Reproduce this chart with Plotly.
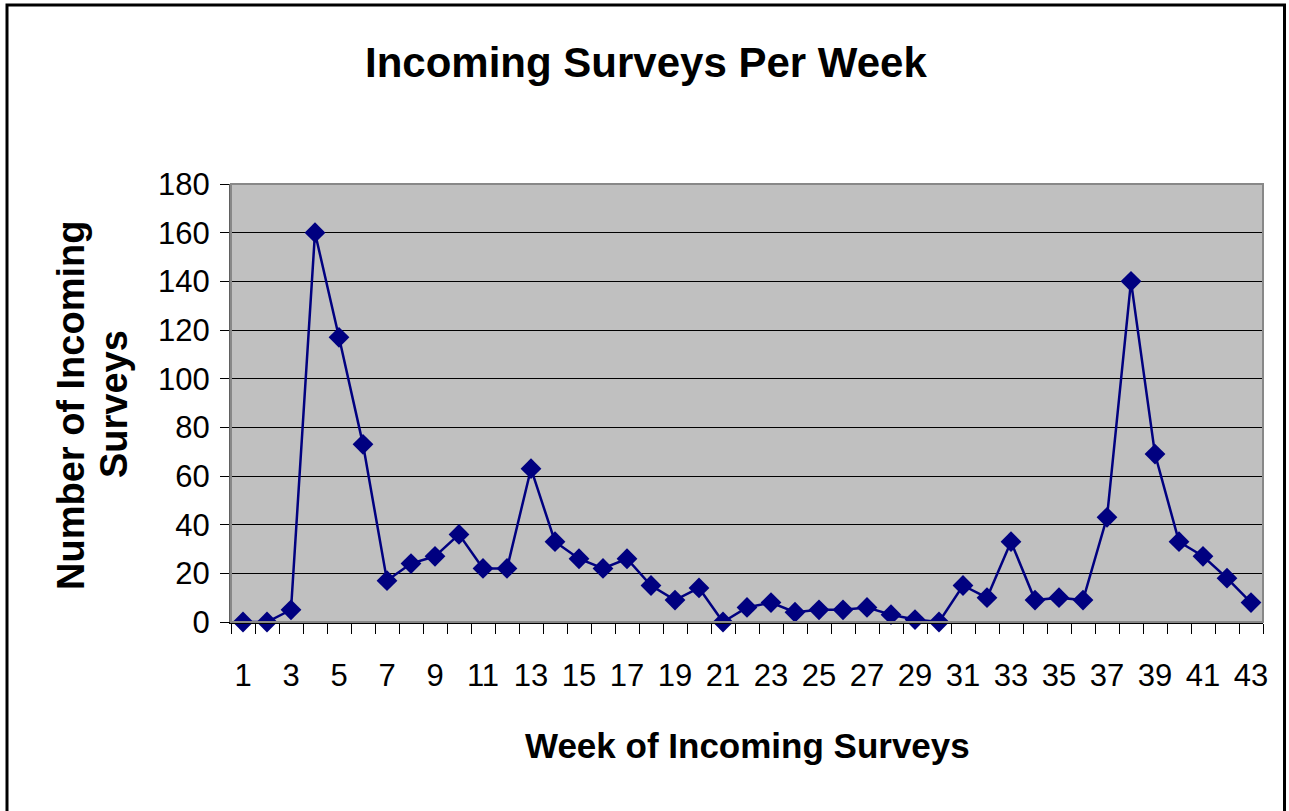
import plotly.graph_objects as go

weeks = list(range(1, 44))
surveys = [0, 0, 5, 160, 117, 73, 17, 24, 27, 36,
           22, 22, 63, 33, 26, 22, 26, 15, 9, 14,
           0, 6, 8, 4, 5, 5, 6, 3, 1, 0,
           15, 10, 33, 9, 10, 9, 43, 140, 69, 33,
           27, 18, 8]
x_tick_vals = list(range(1, 44, 2))
x_tick_text = [str(v) for v in x_tick_vals]
y_tick_vals = list(range(0, 181, 20))

title_text = "Incoming Surveys Per Week"
x_title = "Week of Incoming Surveys"
y_title_lines = ["Number of Incoming", "Surveys"]

W, H = 1289, 811
L, R, T, B = 231, 1289 - 1263, 184, 811 - 622
PW, PH = W - L - R, H - T - B

def px_x(p):
    return (p - L) / PW

def px_y(p):
    return (H - B - p) / PH

FONT = "Arial, Liberation Sans, sans-serif"

fig = go.Figure()
fig.add_trace(go.Scatter(
    x=weeks, y=surveys, mode="lines+markers",
    line=dict(color="#000080", width=2.5),
    marker=dict(symbol="diamond", size=16, color="#000080"),
    showlegend=False, cliponaxis=False,
))

fig.update_layout(
    width=W, height=H,
    margin=dict(l=L, r=R, t=T, b=B, pad=0),
    paper_bgcolor="white",
    plot_bgcolor="#C0C0C0",
    font=dict(family=FONT, color="black"),
    xaxis=dict(
        range=[0.5, 43.5], tickvals=x_tick_vals, ticktext=x_tick_text,
        ticks="", showgrid=False, zeroline=False,
        showline=True, linecolor="black", linewidth=2,
        tickfont=dict(size=31, family=FONT, color="black"),
        ticklabelstandoff=25,
        minor=dict(tick0=0.5, dtick=1, ticks="outside", ticklen=10,
                   tickcolor="black", tickwidth=1, showgrid=False),
    ),
    yaxis=dict(
        range=[0, 180], tickvals=y_tick_vals,
        ticks="outside", ticklen=9, tickcolor="black", tickwidth=1,
        showgrid=True, gridcolor="black", gridwidth=1, zeroline=False,
        showline=True, linecolor="#606060", linewidth=2,
        tickfont=dict(size=31, family=FONT, color="black"),
        ticklabelstandoff=4,
    ),
)

# plot area border (grey)
fig.add_shape(type="rect", xref="paper", yref="paper", x0=0, x1=1, y0=0, y1=1,
              line=dict(color="#888888", width=2), layer="above")
# outer chart frame
fig.add_shape(type="rect", xref="paper", yref="paper",
              x0=px_x(7), x1=px_x(1284.5), y0=px_y(830), y1=px_y(5),
              line=dict(color="black", width=3), fillcolor="rgba(0,0,0,0)", layer="above")

fig.add_annotation(text=f"<b>{title_text}</b>", xref="paper", yref="paper",
                   x=px_x(646), y=px_y(63), showarrow=False,
                   xanchor="center", yanchor="middle",
                   font=dict(size=42, family=FONT, color="black"))
fig.add_annotation(text=f"<b>{x_title}</b>", xref="paper", yref="paper",
                   x=px_x(747), y=px_y(745), showarrow=False,
                   xanchor="center", yanchor="middle",
                   font=dict(size=35, family=FONT, color="black"))
fig.add_annotation(text=f"<b>{y_title_lines[0]}</b>", xref="paper", yref="paper",
                   x=px_x(71), y=px_y(406), showarrow=False, textangle=-90,
                   xanchor="center", yanchor="middle",
                   font=dict(size=38, family=FONT, color="black"))
fig.add_annotation(text=f"<b>{y_title_lines[1]}</b>", xref="paper", yref="paper",
                   x=px_x(114), y=px_y(404), showarrow=False, textangle=-90,
                   xanchor="center", yanchor="middle",
                   font=dict(size=38, family=FONT, color="black"))

fig.write_html("out.html", config={"displayModeBar": False},
               post_script="document.body.style.margin='0';document.body.style.padding='0';")
